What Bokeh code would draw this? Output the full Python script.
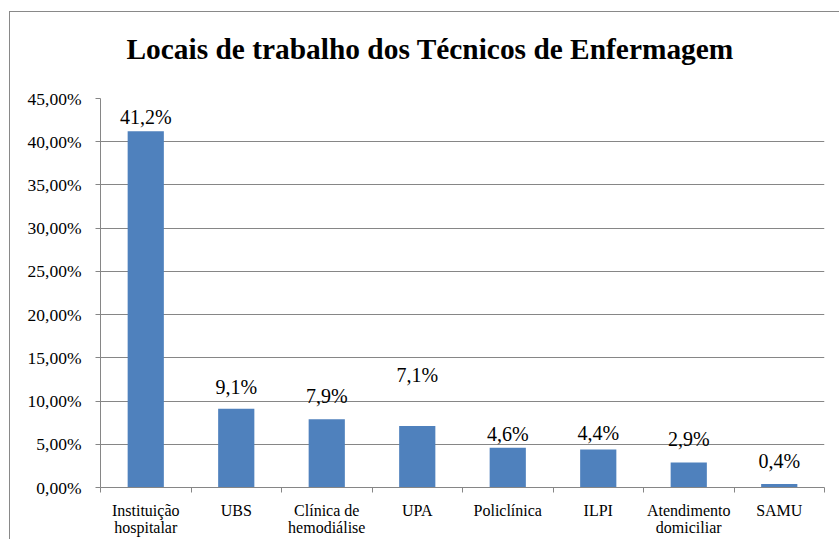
from bokeh.plotting import figure
from bokeh.models import FixedTicker, ColumnDataSource, Title
from bokeh.embed import file_html
from bokeh.resources import INLINE
from bokeh.core.properties import value

# ---- data ----
categories = ["Instituição\nhospitalar", "UBS", "Clínica de\nhemodiálise", "UPA",
              "Policlínica", "ILPI", "Atendimento\ndomiciliar", "SAMU"]
percent_values = [41.2, 9.1, 7.9, 7.1, 4.6, 4.4, 2.9, 0.4]
value_labels = ["41,2%", "9,1%", "7,9%", "7,1%", "4,6%", "4,4%", "2,9%", "0,4%"]
y_ticks = [0, 5, 10, 15, 20, 25, 30, 35, 40, 45]
y_tick_labels = ["0,00%", "5,00%", "10,00%", "15,00%", "20,00%", "25,00%",
                 "30,00%", "35,00%", "40,00%", "45,00%"]
title_text = "Locais de trabalho dos Técnicos de Enfermagem"

# ---- styling ----
label_pad_px = [14, 22, 23, 51, 14, 16, 23, 23]
BAR = "#4F81BD"
GRAY = "#868686"
FONT = "Liberation Serif"

n = len(categories)
xs = [i + 0.5 for i in range(n)]
src = ColumnDataSource(dict(x=xs, top=percent_values, lab=value_labels,
                            yoff=[-v for v in label_pad_px]))

p = figure(width=830, height=528, x_range=(0, n), y_range=(0, y_ticks[-1]),
           output_backend="svg", toolbar_location=None, title_location=None,
           min_border_left=90, min_border_top=86, min_border_right=16,
           min_border_bottom=53)
p.styles = {"margin-left": "9px", "margin-top": "11px",
            "border-left": "1px solid #898989", "border-top": "1px solid #898989"}

# spacer between title and plot area (closest to the frame)
p.add_layout(Title(text=" ", text_font_size="1px", standoff=31), "above")
# main title
p.add_layout(Title(text=title_text, text_font=FONT, text_font_size="29.4px",
                   text_font_style="bold", text_color="black",
                   align="left", offset=26, standoff=0), "above")

p.outline_line_color = None
p.background_fill_color = "white"
p.border_fill_color = "white"

p.vbar(x="x", top="top", width=0.4, source=src, fill_color=BAR, line_color=None)
p.text(x="x", y="top", text="lab", source=src, y_offset="yoff",
       text_align="center", text_baseline="middle",
       text_font=value(FONT), text_font_size="20px",
       text_color="black")

# x axis
xa = p.xaxis[0]
xa.ticker = FixedTicker(ticks=xs, minor_ticks=list(range(n + 1)))
xa.major_label_overrides = {x: c for x, c in zip(xs, categories)}
xa.major_tick_out = 0
xa.major_tick_in = 0
xa.minor_tick_out = 5
xa.minor_tick_in = 0
xa.minor_tick_line_color = GRAY
xa.axis_line_color = GRAY
xa.major_label_text_font = FONT
xa.major_label_text_font_size = "16px"
xa.major_label_text_color = "black"
xa.major_label_standoff = 9
xa.major_label_text_line_height = 1.05

# y axis
ya = p.yaxis[0]
ya.ticker = FixedTicker(ticks=y_ticks, minor_ticks=[])
ya.major_label_overrides = {t: l for t, l in zip(y_ticks, y_tick_labels)}
ya.major_tick_out = 5
ya.major_tick_in = 0
ya.major_tick_line_color = GRAY
ya.axis_line_color = GRAY
ya.major_label_text_font = FONT
ya.major_label_text_font_size = "17.5px"
ya.major_label_text_color = "black"
ya.major_label_standoff = 14

p.xgrid.visible = False
p.ygrid.ticker = FixedTicker(ticks=y_ticks)
p.ygrid.grid_line_color = GRAY

open("out.html", "w").write(file_html(p, INLINE))
